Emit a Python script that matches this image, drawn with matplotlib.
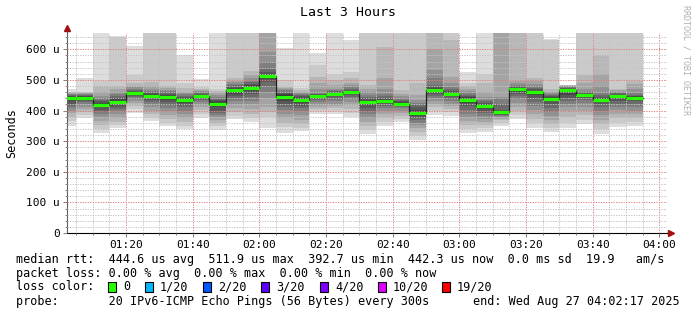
import matplotlib
matplotlib.use("Agg")
import matplotlib.pyplot as plt
from matplotlib.patches import Rectangle
from matplotlib.ticker import MultipleLocator, FuncFormatter

W, H = 697, 315
FONT = "DejaVu Sans Mono"

# start of each 5 minute step, minutes after midnight (01:00 .. 03:50)
step_start = [60, 65, 70, 75, 80, 85, 90, 95, 100, 105, 110, 115, 120, 125, 130,
              135, 140, 145, 150, 155, 160, 165, 170, 175, 180, 185, 190, 195,
              200, 205, 210, 215, 220, 225, 230]

# median rtt per step (microseconds)
medians = [440.6, 442, 419, 429, 456, 447, 444, 434, 447, 422,
           467, 474, 511.9, 445, 434, 447, 453, 460, 429, 432,
           423, 392.7, 467, 454, 436, 414, 394, 469, 459, 437,
           467, 450, 434, 446, 442.3]

# 20 sorted pings per step (us); 700 = off the top of the graph
pings = [
    [349, 365, 380, 392, 400, 408, 415, 422, 430, 437, 444, 447, 449, 451, 453, 455, 457, 459, 462, 469],
    [377, 385, 395, 405, 413, 420, 427, 432, 437, 440, 444, 447, 449, 451, 453, 455, 457, 459, 461, 505],
    [327, 340, 352, 365, 380, 388, 395, 402, 410, 416, 422, 426, 430, 436, 442, 446, 460, 480, 495, 700],
    [344, 352, 362, 375, 388, 398, 405, 412, 420, 426, 432, 437, 442, 448, 455, 462, 470, 480, 640, 645],
    [393, 405, 415, 425, 432, 438, 443, 447, 451, 454, 458, 461, 464, 468, 472, 476, 479, 490, 517, 611],
    [366, 375, 388, 400, 410, 420, 428, 435, 441, 445, 449, 453, 456, 460, 465, 472, 480, 494, 700, 700],
    [349, 360, 372, 385, 397, 408, 418, 427, 435, 441, 447, 451, 455, 459, 463, 468, 474, 480, 700, 700],
    [340, 350, 362, 375, 388, 400, 410, 418, 425, 431, 437, 441, 445, 449, 453, 457, 461, 475, 489, 581],
    [377, 390, 402, 412, 420, 427, 433, 438, 442, 445, 449, 452, 455, 458, 461, 464, 467, 470, 478, 502],
    [338, 348, 358, 368, 378, 386, 393, 400, 410, 418, 426, 430, 434, 438, 443, 450, 456, 465, 472, 700],
    [371, 382, 395, 408, 420, 430, 440, 448, 455, 462, 470, 474, 478, 483, 488, 492, 495, 505, 700, 700],
    [363, 375, 390, 405, 420, 432, 445, 455, 463, 470, 477, 482, 487, 492, 498, 505, 515, 528, 700, 700],
    [344, 378, 395, 413, 440, 460, 479, 492, 502, 510, 514, 520, 526, 537, 559, 592, 700, 700, 700, 700],
    [327, 345, 358, 375, 390, 401, 412, 422, 432, 440, 450, 454, 458, 462, 466, 470, 474, 478, 500, 603],
    [334, 342, 355, 370, 385, 398, 408, 416, 424, 430, 438, 442, 446, 450, 454, 458, 462, 467, 475, 700],
    [390, 398, 405, 412, 420, 428, 434, 439, 443, 445, 449, 451, 453, 455, 458, 470, 490, 510, 550, 587],
    [390, 400, 408, 415, 422, 430, 437, 443, 448, 451, 455, 458, 461, 464, 468, 472, 485, 500, 521, 700],
    [380, 392, 405, 418, 428, 437, 444, 450, 455, 458, 462, 465, 468, 472, 478, 485, 489, 505, 527, 630],
    [325, 335, 350, 362, 375, 388, 398, 408, 418, 426, 432, 436, 440, 445, 452, 460, 470, 485, 700, 700],
    [349, 362, 375, 388, 398, 408, 415, 421, 427, 430, 434, 438, 442, 448, 455, 470, 505, 608, 700, 700],
    [363, 372, 382, 392, 400, 407, 413, 417, 420, 422, 425, 428, 432, 436, 440, 446, 455, 467, 700, 700],
    [305, 318, 330, 342, 352, 360, 368, 375, 383, 390, 395, 402, 410, 418, 425, 434, 450, 489, 700, 700],
    [385, 398, 410, 420, 430, 440, 448, 455, 460, 465, 469, 473, 477, 483, 505, 532, 600, 700, 700, 700],
    [382, 395, 405, 415, 423, 430, 437, 443, 448, 452, 456, 460, 465, 470, 478, 490, 510, 630, 700, 700],
    [327, 340, 352, 365, 378, 390, 402, 415, 425, 433, 439, 443, 447, 452, 458, 465, 472, 480, 489, 527],
    [330, 342, 352, 362, 372, 382, 392, 400, 406, 412, 416, 420, 425, 430, 436, 445, 460, 490, 521, 700],
    [348, 360, 368, 374, 378, 381, 384, 387, 389, 391, 396, 398, 402, 420, 441, 445, 700, 700, 700, 700],
    [374, 385, 400, 412, 425, 438, 448, 455, 461, 466, 471, 474, 477, 481, 485, 490, 495, 700, 700, 700],
    [344, 358, 372, 388, 402, 415, 428, 440, 450, 456, 461, 465, 469, 474, 480, 488, 495, 506, 700, 700],
    [330, 342, 355, 368, 382, 395, 408, 420, 430, 435, 439, 443, 447, 451, 455, 459, 462, 470, 630, 633],
    [344, 360, 378, 397, 410, 422, 432, 442, 452, 462, 470, 472, 474, 475, 476, 480, 481, 482, 483, 483],
    [355, 368, 385, 398, 412, 425, 435, 442, 447, 449, 452, 455, 458, 460, 462, 470, 490, 517, 700, 700],
    [325, 340, 355, 370, 385, 398, 410, 420, 428, 432, 436, 440, 445, 450, 457, 480, 520, 582, 700, 700],
    [345, 360, 375, 390, 402, 412, 422, 430, 438, 443, 448, 452, 455, 458, 460, 462, 466, 470, 700, 700],
    [350, 362, 375, 388, 400, 412, 422, 430, 437, 441, 444, 446, 448, 452, 458, 470, 488, 495, 700, 700],
]

hour_ticks = [80, 100, 120, 140, 160, 180, 200, 220, 240]
hour_labels = ["01:20", "01:40", "02:00", "02:20", "02:40", "03:00", "03:20", "03:40", "04:00"]

loss_labels = ["0", "1/20", "2/20", "3/20", "4/20", "10/20", "19/20"]
loss_colors = ["#26ff00", "#00b8ff", "#0059ff", "#5e00ff", "#7e00ff", "#dd00ff", "#ff0000"]

smoke_shades = ["#dddddd", "#cacaca", "#b7b7b7", "#a4a4a4", "#919191",
                "#7e7e7e", "#6b6b6b", "#585858", "#454545", "#323232"]

fig = plt.figure(figsize=(W / 100, H / 100), dpi=100)
fig.patch.set_facecolor("white")

# plot area in pixels: x 67..667, y 32.5..233 from top
ax = fig.add_axes([67 / W, 82 / H, 600 / W, 200.5 / H])
ax.set_xlim(62.28, 242.28)
ax.set_ylim(0, 655)

# smoke: outer pair lightest, inner pairs darker
for i, shade in enumerate(smoke_shades):
    lo = [p[i] for p in pings]
    hi = [p[19 - i] for p in pings]
    ax.bar(step_start, [h - l for h, l in zip(hi, lo)], bottom=lo, width=5,
           align="edge", color=shade, linewidth=0, antialiased=False, zorder=1)

# median line
edges = step_start + [step_start[-1] + 5]
ax.step(edges, medians + [medians[-1]], where="post", color="#202020",
        lw=0.9, zorder=3)
ax.hlines(medians, step_start, [s + 5 for s in step_start], colors="#26ff00",
          lw=2.3, zorder=4)

# grid
ax.set_axisbelow(False)
ax.xaxis.set_major_locator(MultipleLocator(20))
ax.xaxis.set_minor_locator(MultipleLocator(5))
ax.yaxis.set_major_locator(MultipleLocator(100))
ax.yaxis.set_minor_locator(MultipleLocator(20))
ax.grid(which="major", color="#e08080", lw=0.7, linestyle=(0, (1.3, 1.3)))
ax.grid(which="minor", color="#c4c4c4", lw=0.7, linestyle=(0, (1.3, 1.3)))
ax.set_xticks(hour_ticks)
ax.set_xticklabels(hour_labels)
ax.yaxis.set_major_formatter(FuncFormatter(lambda v, _: "0" if v == 0 else f"{v:.0f} u"))

ax.tick_params(which="both", colors="#808080", labelcolor="black", direction="out")
ax.tick_params(which="major", length=3, width=0.7, labelsize=8, pad=2)
ax.tick_params(which="minor", length=1.5, width=0.7)
for lab in ax.get_xticklabels() + ax.get_yticklabels():
    lab.set_family(FONT)

for side in ("top", "right"):
    ax.spines[side].set_visible(False)
ax.spines["left"].set_color("#606060")
ax.spines["left"].set_linewidth(0.8)
ax.spines["bottom"].set_color("black")
ax.spines["bottom"].set_linewidth(0.8)
ax.spines["left"].set_bounds(0, 670)

# axis arrows
ax.plot([1.0, 1.006], [0, 0], transform=ax.transAxes, color="black", lw=0.8, clip_on=False)
ax.plot([1.006], [0], transform=ax.transAxes, marker=">", color="#a01010",
        ms=4, clip_on=False, zorder=5)
ax.plot([0], [1.02], transform=ax.transAxes, marker="^", color="#a01010",
        ms=4, clip_on=False, zorder=5)

ax.set_ylabel("Seconds", family=FONT, fontsize=8.5, labelpad=6)

fig.text(348 / W, 1 - 13 / H, "Last 3 Hours", family=FONT, fontsize=9.5,
         ha="center", va="center")
fig.text(686 / W, 1 - 5 / H, "RRDTOOL / TOBI OETIKER", family=FONT, fontsize=6,
         color="#b0b0b0", rotation=270, ha="center", va="top")

# legend
LEG = 8.5
rtt_line = "median rtt:  444.6 us avg  511.9 us max  392.7 us min  442.3 us now  0.0 ms sd  19.9   am/s"
loss_line = "packet loss: 0.00 % avg  0.00 % max  0.00 % min  0.00 % now"
probe_line = "probe:       20 IPv6-ICMP Echo Pings (56 Bytes) every 300s"
fig.text(16 / W, 1 - 259 / H, rtt_line, family=FONT, fontsize=LEG, va="center")
fig.text(16 / W, 1 - 273 / H, loss_line, family=FONT, fontsize=LEG, va="center")
fig.text(16 / W, 1 - 287 / H, "loss color:", family=FONT, fontsize=LEG, va="center")
fig.text(16 / W, 1 - 301 / H, probe_line, family=FONT, fontsize=LEG, va="center")
fig.text(680 / W, 1 - 301 / H, "end: Wed Aug 27 04:02:17 2025", family=FONT,
         fontsize=LEG, va="center", ha="right")

box_x = [108, 145, 203, 261, 320, 378, 442]
for bx, lab, col in zip(box_x, loss_labels, loss_colors):
    fig.patches.append(Rectangle((bx / W, (H - 292) / H), 8 / W, 10 / H,
                                 transform=fig.transFigure, facecolor=col,
                                 edgecolor="black", lw=0.8))
    fig.text((bx + 15) / W, 1 - 287 / H, lab, family=FONT, fontsize=LEG, va="center")

fig.savefig("out.png", dpi=100)
